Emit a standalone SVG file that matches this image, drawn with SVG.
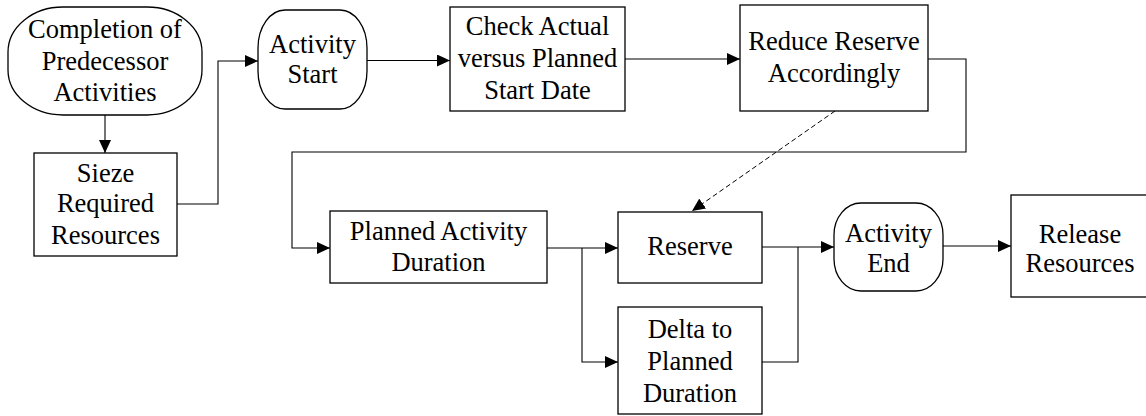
<svg xmlns="http://www.w3.org/2000/svg" width="1146" height="416" viewBox="0 0 1146 416">
<style>
.n{fill:#fff;stroke:#000;stroke-width:1.3}
.t{font-family:'Liberation Serif',Tinos,'Times New Roman',Times,'DejaVu Serif',serif;font-size:26.5px;fill:#000;text-anchor:middle}
.c{fill:none;stroke:#000;stroke-width:1.1}
.d{fill:none;stroke:#000;stroke-width:1;stroke-dasharray:5,3}
</style>
<defs>
<marker id="a" markerUnits="userSpaceOnUse" markerWidth="14" markerHeight="12" refX="13" refY="6" orient="auto">
<path d="M0,0 L13,6 L0,12 z" fill="#000"/>
</marker>
</defs>
<rect width="1146" height="416" fill="#fff"/>
<g id="connectors">
<path class="c" d="M105,115 V153" marker-end="url(#a)"/>
<path class="c" d="M177,204 H218 V61 H258" marker-end="url(#a)"/>
<path class="c" d="M367,60.5 H450" marker-end="url(#a)"/>
<path class="c" d="M625,59 H740" marker-end="url(#a)"/>
<path class="c" d="M928,59 H966 V152 H292 V248 H330" marker-end="url(#a)"/>
<path class="c" d="M547,248 H618" marker-end="url(#a)"/>
<path class="c" d="M582,248 V362 H618" marker-end="url(#a)"/>
<path class="c" d="M762,247 H834" marker-end="url(#a)"/>
<path class="c" d="M762,362 H798 V247"/>
<path class="c" d="M943,246 H1011" marker-end="url(#a)"/>
<path class="d" d="M835,111 L692,211" marker-end="url(#a)"/>
</g>
<g id="completion">
<rect class="n" x="8" y="7" width="194" height="108" rx="55" ry="45"/>
<text class="t" x="105" y="38" font-family="Liberation Serif, serif">Completion of</text>
<text class="t" x="105" y="70">Predecessor</text>
<text class="t" x="105" y="101">Activities</text>
</g>
<g id="activity-start">
<rect class="n" x="258" y="10" width="109" height="99" rx="27" ry="38"/>
<text class="t" x="312.5" y="53">Activity</text>
<text class="t" x="312.5" y="83">Start</text>
</g>
<g id="check">
<rect class="n" x="450" y="7" width="175" height="104"/>
<text class="t" x="537.5" y="35">Check Actual</text>
<text class="t" x="537.5" y="67">versus Planned</text>
<text class="t" x="537.5" y="99">Start Date</text>
</g>
<g id="reduce">
<rect class="n" x="740" y="5" width="188" height="106"/>
<text class="t" x="834" y="50">Reduce Reserve</text>
<text class="t" x="834" y="82">Accordingly</text>
</g>
<g id="sieze">
<rect class="n" x="34" y="153" width="143" height="103"/>
<text class="t" x="105.5" y="182">Sieze</text>
<text class="t" x="105.5" y="212">Required</text>
<text class="t" x="105.5" y="244">Resources</text>
</g>
<g id="planned">
<rect class="n" x="330" y="211" width="217" height="72"/>
<text class="t" x="438.5" y="240">Planned Activity</text>
<text class="t" x="438.5" y="271">Duration</text>
</g>
<g id="reserve">
<rect class="n" x="618" y="212" width="144" height="71"/>
<text class="t" x="690" y="255">Reserve</text>
</g>
<g id="delta">
<rect class="n" x="618" y="307" width="144" height="107"/>
<text class="t" x="690" y="338">Delta to</text>
<text class="t" x="690" y="370">Planned</text>
<text class="t" x="690" y="402">Duration</text>
</g>
<g id="activity-end">
<rect class="n" x="834" y="203" width="109" height="88" rx="27" ry="32"/>
<text class="t" x="888.5" y="242">Activity</text>
<text class="t" x="888.5" y="272">End</text>
</g>
<g id="release">
<rect class="n" x="1011" y="195" width="137" height="102"/>
<text class="t" x="1080" y="243">Release</text>
<text class="t" x="1080" y="272">Resources</text>
</g>
</svg>
